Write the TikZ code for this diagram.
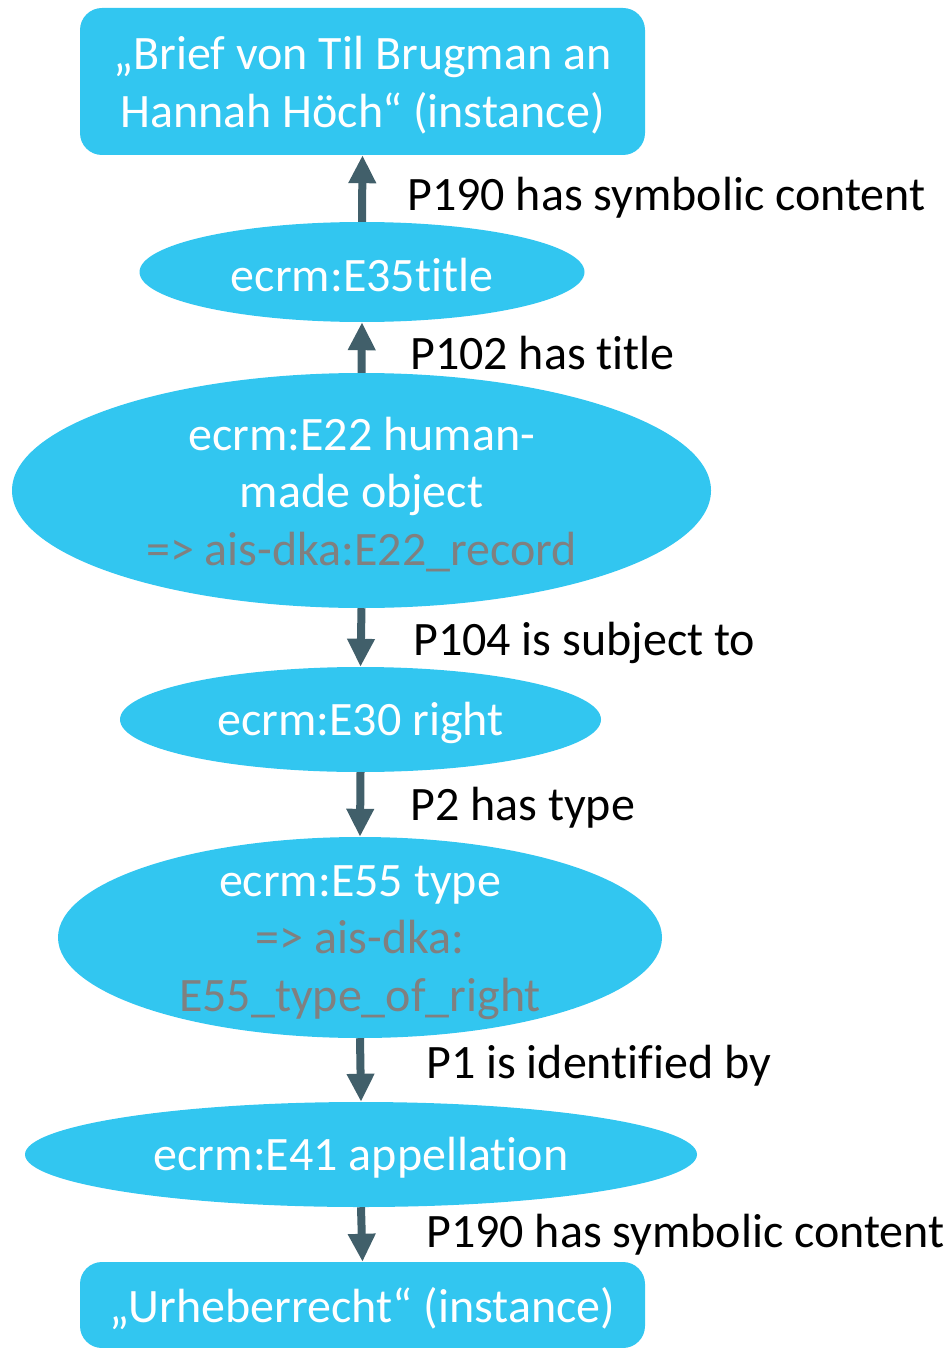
\documentclass[tikz,border=0pt]{standalone}
\usepackage{fontspec}
\setmainfont{Carlito}[Ligatures=NoCommon]
\usetikzlibrary{shapes.geometric,arrows.meta}
\definecolor{fillc}{RGB}{50,198,240}
\definecolor{arrc}{RGB}{65,95,106}
\definecolor{greyt}{RGB}{128,128,128}
\begin{document}
\begin{tikzpicture}[x=1pt,y=-1pt,
  font=\fontsize{48}{57.5}\selectfont,
  ell/.style={ellipse, fill=fillc, draw=none, inner sep=0pt},
  box/.style={rectangle, rounded corners=22pt, fill=fillc, draw=none, inner sep=0pt},
  txt/.style={text=white, align=center, inner sep=0pt},
  lbl/.style={anchor=base west, text=black, inner sep=0pt},
  arr/.style={draw=arrc, line width=8pt, -{Triangle[width=26pt,length=28pt]}}]
\useasboundingbox (0,0) rectangle (951,1348);

\node[box, minimum width=565pt, minimum height=147pt] (inst1) at (362.5,81.5) {};
\node[txt] (inst1t) at (362.5,85) {„Brief von Til Brugman an\\Hannah Höch“ (instance)};

\node[ell, minimum width=445pt, minimum height=100pt] (e35) at (362,272) {};
\node[txt] (e35t) at (362,275) {ecrm:E35title};

\node[ell, minimum width=699pt, minimum height=235pt] (e22) at (361.5,490.5) {};
\node[txt] (e22t) at (361.5,494.5) {ecrm:E22 human-\\made object\\{\color{greyt}=> ais-dka:E22\_record}};

\node[ell, minimum width=481pt, minimum height=105pt] (e30) at (360.5,719.5) {};
\node[txt] (e30t) at (360.5,723) {ecrm:E30 right};

\node[ell, minimum width=604pt, minimum height=201pt] (e55) at (360,937.5) {};
\node[txt] (e55t) at (360,942.5) {ecrm:E55 type\\{\color{greyt}=> ais-dka:}\\{\color{greyt}E55\_type\_of\_right}};

\node[ell, minimum width=672pt, minimum height=105pt] (e41) at (361,1154.5) {};
\node[txt] (e41t) at (361,1158) {ecrm:E41 appellation};

\node[box, minimum width=565pt, minimum height=86pt] (inst2) at (362.5,1305) {};
\node[txt] (inst2t) at (362.5,1309) {„Urheberrecht“ (instance)};

\draw[arr] (e35.north) -- (inst1.south);
\draw[arr] (e22.north) -- (e35.south);
\draw[arr] (e22.south) -- (e30.north);
\draw[arr] (e30.south) -- (e55.north);
\draw[arr] (e55.south) -- (e41.north);
\draw[arr] (e41.south) -- (inst2.north);

\node[lbl] (l1) at (407,211) {P190 has symbolic content};
\node[lbl] (l2) at (410,369) {P102 has title};
\node[lbl] (l3) at (413,655) {P104 is subject to};
\node[lbl] (l4) at (410,820) {P2 has type};
\node[lbl] (l5) at (426,1078) {P1 is identified by};
\node[lbl] (l6) at (426,1247) {P190 has symbolic content};
\end{tikzpicture}
\end{document}
